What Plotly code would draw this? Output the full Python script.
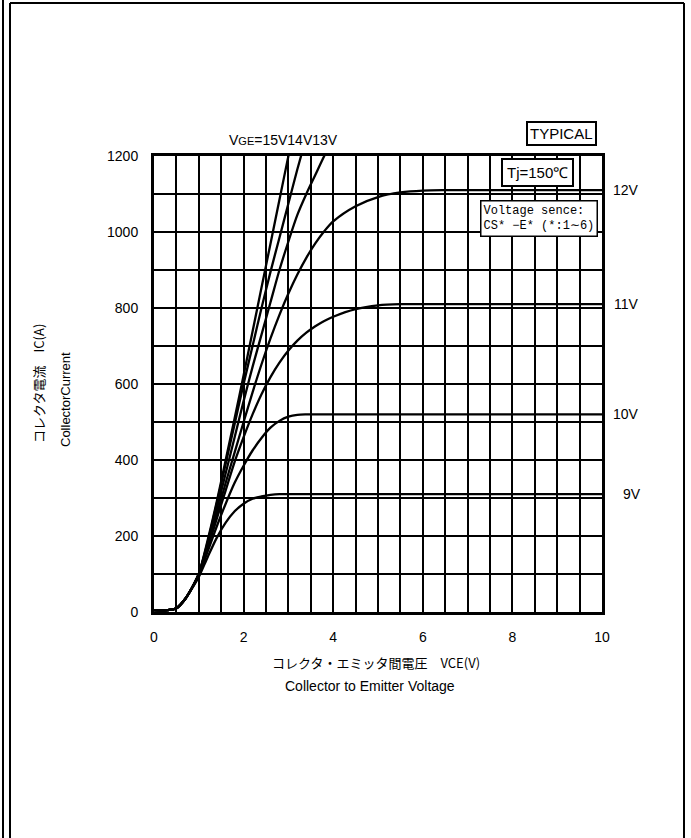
"""
Collector current vs collector-emitter voltage (output characteristics)
"""
import plotly.graph_objects as go

# data
vce = [0, 0.3, 0.5, 0.7, 0.9, 1.0, 1.2, 1.4, 1.6, 1.8, 2.0, 2.2, 2.4, 2.6, 2.8,
       3.0, 3.2, 3.4, 3.6, 3.8, 4.0, 4.5, 5.0, 5.5, 6.0, 6.5, 7.0, 8.0, 9.0, 10.0]

ic_9v = [5, 5, 10, 35, 72, 92, 145, 195, 235, 265, 285, 298, 304, 308, 310,
         310, 310, 310, 310, 310, 310, 310, 310, 310, 310, 310, 310, 310, 310, 310]
ic_10v = [5, 5, 10, 35, 74, 95, 160, 225, 285, 340, 385, 425, 458, 485, 503,
          514, 519, 520, 520, 520, 520, 520, 520, 520, 520, 520, 520, 520, 520, 520]
ic_11v = [5, 5, 10, 35, 75, 100, 170, 245, 320, 395, 460, 520, 573, 618, 656,
          688, 714, 735, 752, 766, 777, 797, 807, 810, 810, 810, 810, 810, 810, 810]
ic_12v = [5, 5, 10, 35, 75, 100, 175, 255, 340, 420, 500, 578, 652, 720, 782,
          838, 888, 932, 970, 1002, 1028, 1068, 1092, 1104, 1109, 1110, 1110, 1110, 1110, 1110]
ic_13v = [5, 5, 10, 35, 75, 100, 180, 270, 365, 460, 555, 645, 730, 815, 900,
          975, 1045, 1100, 1150, 1200, 1245, None, None, None, None, None, None, None, None, None]
ic_14v = [5, 5, 10, 35, 75, 100, 185, 285, 390, 495, 600, 700, 800, 895, 985,
          1075, 1165, 1250, None, None, None, None, None, None, None, None, None, None, None, None]
ic_15v = [5, 5, 10, 35, 75, 100, 190, 290, 400, 510, 623, 738, 854, 969, 1085,
          1200, 1315, None, None, None, None, None, None, None, None, None, None, None, None, None]

curves = [ic_15v, ic_14v, ic_13v, ic_12v, ic_11v, ic_10v, ic_9v]
right_labels = [("12V", 1110), ("11V", 810), ("10V", 520), ("9V", 310)]

W, H = 691, 838
L, R, T, B = 154, 602, 156, 612


def px(x):
    return (x - L) / (R - L)


def py(y):
    return (B - y) / (B - T)


fig = go.Figure()
for ic in curves:
    fig.add_trace(go.Scatter(
        x=vce, y=ic, mode='lines',
        line=dict(color='black', width=2.3, shape='spline', smoothing=0.8),
        connectgaps=False, showlegend=False, hoverinfo='skip'
    ))

axis_common = dict(
    showline=True, linecolor='black', linewidth=3, mirror=True,
    showgrid=True, gridcolor='black', gridwidth=1.5,
    zeroline=False, ticks='', tickfont=dict(family='Liberation Sans, Arial', size=14, color='black'),
)
fig.update_xaxes(range=[0, 10], dtick=2, tick0=0,
                 minor=dict(dtick=0.5, showgrid=True, gridcolor='black', gridwidth=1.5),
                 ticklabelstandoff=10, **axis_common)
fig.update_yaxes(range=[0, 1200], dtick=200, tick0=0,
                 minor=dict(dtick=100, showgrid=True, gridcolor='black', gridwidth=1.5),
                 ticklabelstandoff=10, **axis_common)

jp = 'Noto Sans CJK JP'
sans = 'Liberation Sans, Arial'
ann = []
ann.append(dict(x=px(283), y=py(140), text="V<span style='font-size:11px'>GE</span>=15V14V13V",
                font=dict(family=sans, size=14, color='black')))
ann.append(dict(x=px(561), y=py(134), text='TYPICAL', bordercolor='black', borderwidth=2,
                borderpad=2, bgcolor='white', font=dict(family=sans, size=15, color='black')))
ann.append(dict(x=px(537), y=py(173), text='Tj=150℃', bordercolor='black', borderwidth=2,
                borderpad=4, bgcolor='white', font=dict(family=sans, size=15, color='black')))
ann.append(dict(x=px(539), y=py(218), text='Voltage sence:<br>CS* −E* (*:1∼6)', align='left',
                bordercolor='black', borderwidth=1.5, borderpad=2, bgcolor='white',
                font=dict(family='Liberation Mono, ' + jp, size=12, color='black')))
for lab, val in right_labels:
    xoff = 632 if lab == '9V' else 626
    ann.append(dict(x=px(xoff), y=py(B - (B - T) * val / 1200), text=lab,
                    font=dict(family=sans, size=14, color='black')))
ann.append(dict(x=px(38), y=py(383), text='コレクタ電流　IC(A)', textangle=-90,
                font=dict(family=jp, size=13, color='black')))
ann.append(dict(x=px(65), y=py(400), text='CollectorCurrent', textangle=-90,
                font=dict(family=sans, size=13, color='black')))
ann.append(dict(x=px(376), y=py(662), text='コレクタ・エミッタ間電圧　VCE(V)',
                font=dict(family=jp, size=13, color='black')))
ann.append(dict(x=px(370), y=py(686), text='Collector to Emitter Voltage',
                font=dict(family=sans, size=14, color='black')))
for a in ann:
    a.update(xref='paper', yref='paper', showarrow=False, xanchor='center', yanchor='middle')

# page frame (double line on the left)
frame = [(3, 0, 3, H), (10, 3, 10, H), (10, 3, 684, 3), (684, 3, 684, H)]
shapes = [dict(type='line', xref='paper', yref='paper',
               x0=px(a), y0=py(b), x1=px(c), y1=py(d),
               line=dict(color='black', width=2)) for a, b, c, d in frame]

fig.update_layout(
    width=W, height=H,
    margin=dict(l=L, r=W - R, t=T, b=H - B),
    paper_bgcolor='white', plot_bgcolor='white',
    annotations=ann, shapes=shapes,
)
fig.write_html("out.html", config={'displayModeBar': False},
               post_script="document.body.style.margin='0';")
